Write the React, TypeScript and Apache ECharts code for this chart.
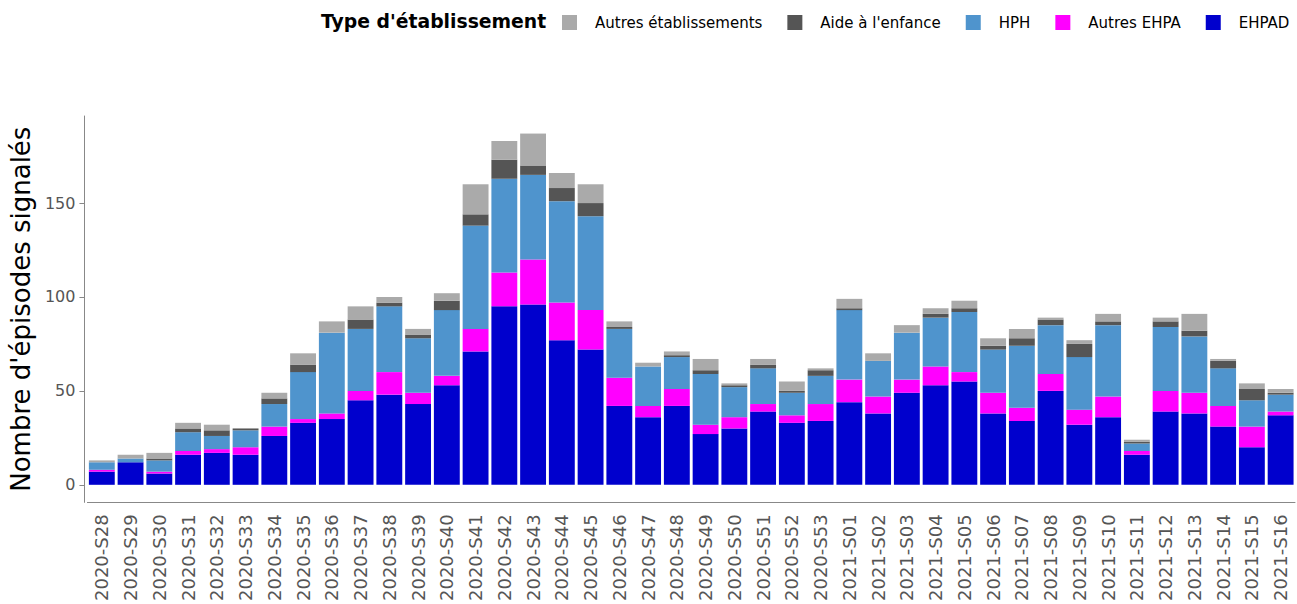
import React, { useEffect, useRef } from "react";
import * as echarts from "echarts";

const categories = [
  "2020-S28", "2020-S29", "2020-S30", "2020-S31", "2020-S32", "2020-S33", "2020-S34",
  "2020-S35", "2020-S36", "2020-S37", "2020-S38", "2020-S39", "2020-S40", "2020-S41",
  "2020-S42", "2020-S43", "2020-S44", "2020-S45", "2020-S46", "2020-S47", "2020-S48",
  "2020-S49", "2020-S50", "2020-S51", "2020-S52", "2020-S53",
  "2021-S01", "2021-S02", "2021-S03", "2021-S04", "2021-S05", "2021-S06", "2021-S07",
  "2021-S08", "2021-S09", "2021-S10", "2021-S11", "2021-S12", "2021-S13", "2021-S14",
  "2021-S15", "2021-S16",
];

const ehpad = [7, 12, 6, 16, 17, 16, 26, 33, 35, 45, 48, 43, 53, 71, 95, 96, 77, 72, 42, 36, 42, 27, 30, 39, 33, 34,
  44, 38, 49, 53, 55, 38, 34, 50, 32, 36, 16, 39, 38, 31, 20, 37];
const autresEhpa = [1, 0, 1, 2, 2, 4, 5, 2, 3, 5, 12, 6, 5, 12, 18, 24, 20, 21, 15, 6, 9, 5, 6, 4, 4, 9,
  12, 9, 7, 10, 5, 11, 7, 9, 8, 11, 2, 11, 11, 11, 11, 2];
const hph = [4, 2, 6, 10, 7, 9, 12, 25, 43, 33, 35, 29, 35, 55, 50, 45, 54, 50, 26, 21, 17, 27, 16, 19, 12, 15,
  37, 19, 25, 26, 32, 23, 33, 26, 28, 38, 4, 34, 30, 20, 14, 9];
const aideEnfance = [0, 0, 1, 2, 3, 1, 3, 4, 0, 5, 2, 2, 5, 6, 10, 5, 7, 7, 1, 0, 1, 2, 1, 2, 1, 3,
  1, 0, 0, 2, 2, 2, 4, 3, 7, 2, 1, 3, 3, 4, 6, 1];
const autresEtab = [1, 2, 3, 3, 3, 0, 3, 6, 6, 7, 3, 3, 4, 16, 10, 17, 8, 10, 3, 2, 2, 6, 1, 3, 5, 1,
  5, 4, 4, 3, 4, 4, 5, 1, 2, 4, 1, 2, 9, 1, 3, 2];

const yTicks = [0, 50, 100, 150];

const seriesDefs = [
  { name: "EHPAD", data: ehpad, color: "#0000CD" },
  { name: "Autres EHPA", data: autresEhpa, color: "#FF00FF" },
  { name: "HPH", data: hph, color: "#4F94CD" },
  { name: "Aide à l'enfance", data: aideEnfance, color: "#555555" },
  { name: "Autres établissements", data: autresEtab, color: "#AAAAAA" },
];

const legendOrder = ["Autres établissements", "Aide à l'enfance", "HPH", "Autres EHPA", "EHPAD"];

const FONT = "DejaVu Sans";

export default function App() {
  const ref = useRef<HTMLDivElement>(null);
  useEffect(() => {
    if (!ref.current) return;
    const chart = echarts.init(ref.current, null, { renderer: "svg" });
    chart.setOption({
      animation: false,
      backgroundColor: "#ffffff",
      title: {
        text: "Type d'établissement",
        left: 321,
        top: 12,
        padding: 0,
        textStyle: { fontFamily: FONT, fontSize: 18.8, fontWeight: "bold", color: "#000" },
      },
      legend: {
        data: legendOrder,
        left: 562,
        top: 15,
        width: 735,
        padding: 0,
        itemWidth: 15,
        itemHeight: 15,
        itemGap: 25,
        icon: "rect",
        textStyle: { fontFamily: FONT, fontSize: 15, color: "#000", padding: [0, 0, 0, 13] },
      },
      grid: { left: 87, right: 2, top: 116, bottom: 101.5, containLabel: false },
      xAxis: {
        type: "category",
        data: categories,
        axisLine: { onZero: false, lineStyle: { color: "#888888", width: 1 } },
        axisTick: { alignWithLabel: true, length: 5, lineStyle: { color: "#888888" } },
        axisLabel: {
          rotate: 90,
          interval: 0,
          margin: 12,
          fontFamily: FONT,
          fontSize: 18,
          color: "#555555",
        },
      },
      yAxis: {
        type: "value",
        min: -9.35,
        max: 196.35,
        offset: 3,
        name: "Nombre d'épisodes signalés",
        nameLocation: "middle",
        nameRotate: 90,
        nameGap: 49,
        nameTextStyle: { fontFamily: FONT, fontSize: 26, color: "#000" },
        axisLine: { show: true, lineStyle: { color: "#888888", width: 1 } },
        axisTick: { show: true, length: 5, customValues: yTicks, lineStyle: { color: "#888888" } },
        axisLabel: {
          customValues: yTicks,
          margin: 9,
          fontFamily: FONT,
          fontSize: 16,
          color: "#555555",
        },
        splitLine: { show: false },
      },
      series: seriesDefs.map((s) => ({
        name: s.name,
        type: "bar",
        stack: "total",
        data: s.data,
        barCategoryGap: "10%",
        itemStyle: { color: s.color },
      })),
    });
    return () => chart.dispose();
  }, []);
  return (
    <div
      ref={ref}
      style={{ position: "fixed", left: 0, top: 0, width: 1297, height: 604, background: "#fff" }}
    />
  );
}
